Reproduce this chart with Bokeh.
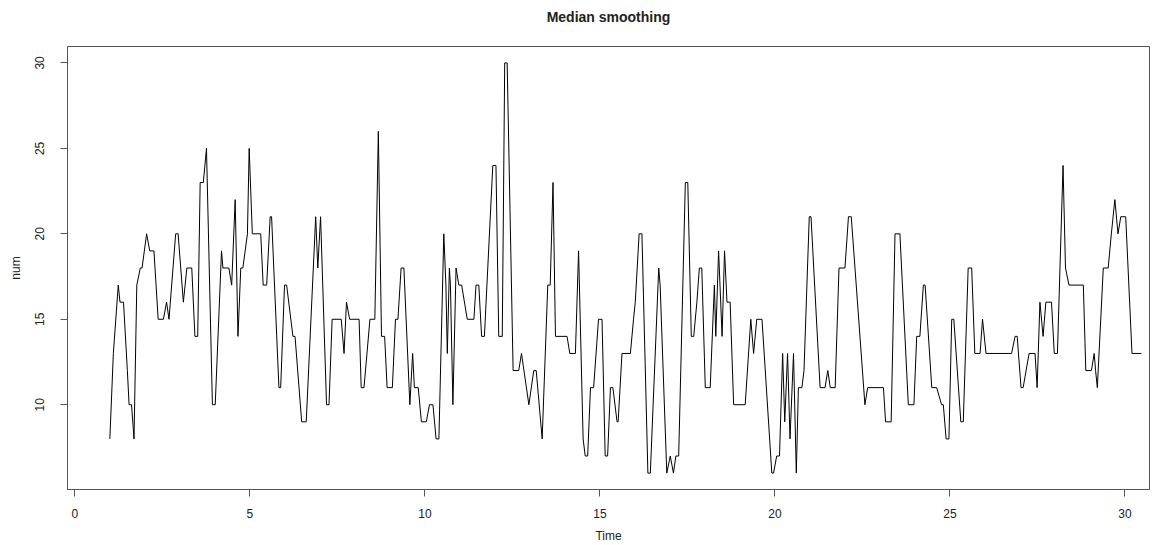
from bokeh.plotting import figure
from bokeh.models import Range1d, FixedTicker
from bokeh.embed import file_html
from bokeh.resources import INLINE

# Median-smoothed series: time (years) and smoothed count at each vertex of the line
time = [1.00, 1.10, 1.24, 1.29, 1.39, 1.50, 1.55, 1.62, 1.69, 1.77, 1.87, 1.92, 2.05, 2.14, 2.26,
        2.38, 2.53, 2.62, 2.69, 2.88, 2.95, 3.10, 3.20, 3.34, 3.43, 3.51, 3.58, 3.67, 3.76,
        3.93, 4.01, 4.19, 4.23, 4.40, 4.48, 4.58, 4.66, 4.74, 4.80, 4.93, 4.98, 5.07, 5.31,
        5.38, 5.48, 5.58, 5.62, 5.83, 5.88, 5.99, 6.05, 6.23, 6.29, 6.48, 6.61, 6.88,
        6.94, 7.02, 7.19, 7.26, 7.35, 7.61, 7.69, 7.76, 7.85, 8.12, 8.18, 8.26, 8.43, 8.57,
        8.67, 8.76, 8.85, 8.92, 9.07, 9.16, 9.23, 9.32, 9.40, 9.57, 9.65, 9.70, 9.81,
        9.90, 10.04, 10.13, 10.23, 10.32, 10.40, 10.54, 10.60, 10.64, 10.70, 10.73, 10.80,
        10.89, 10.97, 11.05, 11.21, 11.40, 11.46, 11.54, 11.62, 11.70, 11.94, 12.03, 12.11,
        12.21, 12.28, 12.35, 12.52, 12.68, 12.76,
        12.97, 13.11, 13.18, 13.35, 13.51, 13.58, 13.66, 13.73, 14.06, 14.14, 14.30, 14.39,
        14.52, 14.58, 14.65, 14.73, 14.82, 14.96, 15.06, 15.15, 15.22, 15.30, 15.37, 15.49,
        15.52, 15.63, 15.87,
        15.96, 16.01, 16.12, 16.20, 16.37, 16.44, 16.68, 16.72, 16.91, 17.01, 17.10, 17.17,
        17.25, 17.44, 17.51, 17.61, 17.68, 17.77, 17.84, 17.91, 18.01, 18.15, 18.27, 18.31,
        18.39, 18.43, 18.49, 18.56, 18.63, 18.72, 18.82,
        19.15, 19.31, 19.39, 19.48, 19.63, 19.91, 19.96, 20.05, 20.13, 20.22, 20.28, 20.36,
        20.43, 20.53, 20.61, 20.67, 20.77, 20.83, 20.98, 21.03, 21.29, 21.43, 21.51, 21.58,
        21.72,
        21.83, 22.00, 22.10, 22.18, 22.57, 22.65, 23.10, 23.16, 23.32, 23.43, 23.57, 23.81,
        23.97, 24.05, 24.14, 24.24, 24.29, 24.48, 24.62, 24.76, 24.81,
        24.89, 24.97, 25.05, 25.11, 25.31, 25.38, 25.52, 25.62, 25.71, 25.86, 25.93, 26.03,
        26.76, 26.86, 26.92, 27.03, 27.09, 27.26, 27.43, 27.49, 27.57, 27.66, 27.74, 27.90,
        27.98, 28.07, 28.23, 28.30, 28.40, 28.81, 28.88, 29.04, 29.12, 29.16, 29.21, 29.38,
        29.52, 29.61, 29.71, 29.80, 29.88, 30.02, 30.20, 30.47]

num = [8, 13, 17, 16, 16, 12, 10, 10, 8, 17, 18, 18, 20, 19, 19,
       15, 15, 16, 15, 20, 20, 16, 18, 18, 14, 14, 23, 23, 25,
       10, 10, 19, 18, 18, 17, 22, 14, 18, 18, 20, 25, 20, 20,
       17, 17, 21, 21, 11, 11, 17, 17, 14, 14, 9, 9, 21,
       18, 21, 10, 10, 15, 15, 13, 16, 15, 15, 11, 11, 15, 15,
       26, 14, 14, 11, 11, 15, 15, 18, 18, 10, 13, 11, 11,
       9, 9, 10, 10, 8, 8, 20, 17, 13, 18, 17, 10,
       18, 17, 17, 15, 15, 17, 17, 14, 14, 24, 24, 14,
       14, 30, 30, 12, 12, 13,
       10, 12, 12, 8, 17, 17, 23, 14, 14, 13, 13, 19,
       8, 7, 7, 11, 11, 15, 15, 7, 7, 11, 11, 9,
       9, 13, 13,
       15, 16, 20, 20, 6, 6, 18, 17, 6, 7, 6, 7,
       7, 23, 23, 14, 14, 16, 18, 18, 11, 11, 17, 14,
       19, 17, 14, 19, 16, 16, 10,
       10, 15, 13, 15, 15, 6, 6, 7, 7, 13, 9, 13,
       8, 13, 6, 11, 11, 12, 21, 21, 11, 11, 12, 11,
       11,
       18, 18, 21, 21, 10, 11, 11, 9, 9, 20, 20, 10,
       10, 14, 14, 17, 17, 11, 11, 10, 10,
       8, 8, 15, 15, 9, 9, 18, 18, 13, 13, 15, 13,
       13, 14, 14, 11, 11, 13, 13, 11, 16, 14, 16, 16,
       13, 13, 24, 18, 17, 17, 12, 12, 13, 12, 11, 18,
       18, 20, 22, 20, 21, 21, 13, 13]

x_ticks = [0, 5, 10, 15, 20, 25, 30]
y_ticks = [10, 15, 20, 25, 30]

FONT = "Liberation Sans"
INK = "#222222"
FRAME = "#555555"

p = figure(width=1176, height=545, output_backend="svg", toolbar_location=None,
           x_range=Range1d(-0.21, 30.70), y_range=Range1d(5.04, 30.96),
           min_border_left=67, min_border_right=27, min_border_top=46, min_border_bottom=53,
           background_fill_color="white", border_fill_color="white")

# plot box
p.outline_line_color = FRAME
p.outline_line_width = 1
p.grid.visible = False

# title; the blank second line lifts it higher in the top margin
p.title.text = "Median smoothing\n "
p.title.text_font = FONT
p.title.text_font_size = "14px"
p.title.text_font_style = "bold"
p.title.text_color = INK
p.title.align = "center"
p.title.standoff = 11

# axes
for ax in (p.xaxis[0], p.yaxis[0]):
    ax.axis_line_color = FRAME
    ax.axis_line_width = 1
    ax.major_tick_line_color = FRAME
    ax.major_tick_in = 0
    ax.major_tick_out = 7
    ax.minor_tick_line_color = None
    ax.major_label_text_font = FONT
    ax.major_label_text_font_size = "12px"
    ax.major_label_text_color = INK
    ax.axis_label_text_font = FONT
    ax.axis_label_text_font_size = "12px"
    ax.axis_label_text_font_style = "normal"
    ax.axis_label_text_color = INK

p.xaxis.ticker = FixedTicker(ticks=x_ticks)
p.yaxis.ticker = FixedTicker(ticks=y_ticks)
p.xaxis.axis_label = "Time"
p.yaxis.axis_label = "num"
p.xaxis.major_label_standoff = 12
p.xaxis.axis_label_standoff = 8
p.yaxis.major_label_orientation = "vertical"
p.yaxis.major_label_standoff = 16
p.yaxis.axis_label_standoff = 10

p.line(time, num, line_color="black", line_width=1)

open("out.html", "w").write(file_html(p, INLINE))
